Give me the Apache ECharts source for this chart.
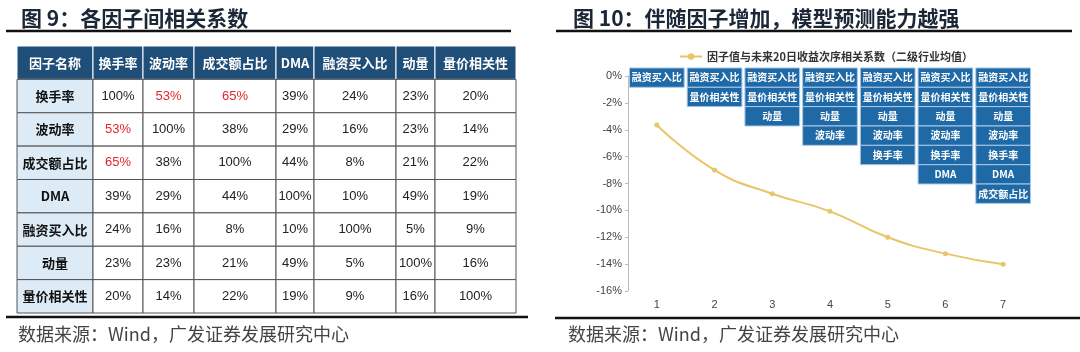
<!DOCTYPE html>
<html>
<head>
<meta charset="utf-8">
<script src="https://cdn.jsdelivr.net/npm/echarts@6/dist/echarts.min.js"></script>
<style>
  html, body { margin: 0; padding: 0; background: #fff; }
  #chart { width: 1080px; height: 352px; }
</style>
</head>
<body>
<div id="chart"></div>
<script>
// 表格数据
const factorNames = ['换手率', '波动率', '成交额占比', 'DMA', '融资买入比', '动量', '量价相关性']
const corrMatrix = [
  [100, 53, 65, 39, 24, 23, 20],
  [53, 100, 38, 29, 16, 23, 14],
  [65, 38, 100, 44, 8, 21, 22],
  [39, 29, 44, 100, 10, 49, 19],
  [24, 16, 8, 10, 100, 5, 9],
  [23, 23, 21, 49, 5, 100, 16],
  [20, 14, 22, 19, 9, 16, 100]
]

// 折线图数据
const factorCounts = ['1', '2', '3', '4', '5', '6', '7']
const icValues = [-3.65, -7.0, -8.76, -10.07, -12.0, -13.22, -14.01]
// 每一步新增的因子
const addedFactors = ['融资买入比', '量价相关性', '动量', '波动率', '换手率', 'DMA', '成交额占比']
const legendName = '因子值与未来20日收益次序相关系数（二级行业均值）'

// 表格列宽(布局)
const colWidths = [76, 50, 51, 82, 38, 82, 39, 81]
const colStarts = colWidths.reduce((acc, w) => { acc.push(acc[acc.length - 1] + w); return acc }, [0])
const tableWidth = colStarts[colStarts.length - 1]

const CN_FONT = '"Noto Sans CJK SC", sans-serif'
const NUM_FONT = '"Liberation Sans", Arial, sans-serif'

// 构造表格单元格
const tableCells = []
const headerRow = ['因子名称'].concat(factorNames)
headerRow.forEach((t, c) => tableCells.push([0, c, t]))
factorNames.forEach((name, r) => {
  tableCells.push([r + 1, 0, name])
  corrMatrix[r].forEach((v, c) => tableCells.push([r + 1, c + 1, v]))
})

// 构造方块数据
const boxData = []
factorCounts.forEach((k, i) => {
  for (let j = 0; j <= i; j++) boxData.push([i, j, addedFactors[j]])
})

const chart = echarts.init(document.getElementById('chart'))

const BOX_TOP = 0.6
const BOX_STEP = 1.44

const option = {
  animation: false,
  title: [
    { text: '图 9：各因子间相关系数', left: 16, top: 3,
      textStyle: { fontFamily: CN_FONT, fontSize: 21, fontWeight: 'bold', color: '#1b2636' } },
    { text: '图 10：伴随因子增加，模型预测能力越强', left: 568, top: 3,
      textStyle: { fontFamily: CN_FONT, fontSize: 21, fontWeight: 'bold', color: '#1b2636' } }
  ],
  graphic: [
    { type: 'line', shape: { x1: 6, y1: 31, x2: 511, y2: 31 }, style: { stroke: '#111', lineWidth: 2.5 } },
    { type: 'line', shape: { x1: 556, y1: 31, x2: 1072, y2: 31 }, style: { stroke: '#111', lineWidth: 2.5 } },
    { type: 'line', shape: { x1: 6, y1: 317, x2: 528, y2: 317 }, style: { stroke: '#111', lineWidth: 2.5 } },
    { type: 'line', shape: { x1: 555, y1: 318, x2: 1080, y2: 318 }, style: { stroke: '#111', lineWidth: 2.5 } },
    { type: 'text', left: 18, top: 325,
      style: { text: '数据来源：Wind，广发证券发展研究中心', font: '18px ' + CN_FONT, fill: '#444' } },
    { type: 'text', left: 568, top: 325,
      style: { text: '数据来源：Wind，广发证券发展研究中心', font: '18px ' + CN_FONT, fill: '#444' } }
  ],
  legend: {
    data: [legendName],
    left: 674,
    top: 46,
    itemWidth: 22,
    itemHeight: 8,
    textStyle: { fontFamily: CN_FONT, fontSize: 11, fontWeight: 'bold', color: '#333' }
  },
  grid: [
    { left: 17, top: 46, width: tableWidth, height: 267 },
    { left: 628, top: 76, width: 404, height: 215 }
  ],
  xAxis: [
    { gridIndex: 0, type: 'value', min: 0, max: tableWidth, show: false },
    {
      gridIndex: 1, type: 'category', data: factorCounts, boundaryGap: true,
      axisLine: { show: false }, axisTick: { show: false },
      axisLabel: { color: '#444', fontSize: 11, fontFamily: NUM_FONT, margin: 8 }
    }
  ],
  yAxis: [
    { gridIndex: 0, type: 'value', min: 0, max: 8, inverse: true, show: false },
    {
      gridIndex: 1, type: 'value', min: -16, max: 0, interval: 2,
      axisLine: { show: true, lineStyle: { color: '#bbb' } },
      axisTick: { show: true, length: 3, lineStyle: { color: '#bbb' } },
      splitLine: { show: false },
      axisLabel: { formatter: '{value}%', color: '#444', fontSize: 11, fontFamily: NUM_FONT, margin: 6 }
    }
  ],
  series: [
    {
      type: 'custom',
      xAxisIndex: 0,
      yAxisIndex: 0,
      data: tableCells,
      renderItem: (params, api) => {
        const cell = tableCells[params.dataIndex]
        const r = cell[0], c = cell[1], v = cell[2]
        const p0 = api.coord([colStarts[c], r])
        const p1 = api.coord([colStarts[c + 1], r + 1])
        const isHeader = r === 0
        const isLabel = c === 0
        let fill = '#fff', stroke = '#555', textColor = '#222'
        let font = '13px ' + NUM_FONT
        let text = typeof v === 'number' ? v + '%' : v
        if (isHeader) {
          fill = '#1f4e79'; stroke = '#fff'; textColor = '#fff'
          font = 'bold 13px ' + CN_FONT
        } else if (isLabel) {
          fill = '#ddebf7'
          font = 'bold 13px ' + CN_FONT
          textColor = '#111'
        } else if (v > 50 && v < 100) {
          textColor = '#e3262b'
        }
        return {
          type: 'group',
          children: [
            { type: 'rect', shape: { x: p0[0], y: p0[1], width: p1[0] - p0[0], height: p1[1] - p0[1] },
              style: { fill: fill, stroke: stroke, lineWidth: 1 } },
            { type: 'text',
              style: { text: text, x: (p0[0] + p1[0]) / 2, y: (p0[1] + p1[1]) / 2,
                align: 'center', verticalAlign: 'middle', font: font, fill: textColor } }
          ]
        }
      }
    },
    {
      name: legendName,
      type: 'line',
      xAxisIndex: 1,
      yAxisIndex: 1,
      data: icValues,
      smooth: true,
      symbol: 'circle',
      symbolSize: 5,
      itemStyle: { color: '#e8c568' },
      lineStyle: { color: '#e8c568', width: 2 },
      z: 3
    },
    {
      type: 'custom',
      xAxisIndex: 1,
      yAxisIndex: 1,
      data: boxData,
      clip: false,
      renderItem: (params, api) => {
        const i = api.value(0), j = api.value(1)
        const label = boxData[params.dataIndex][2]
        const top = api.coord([i, BOX_TOP - j * BOX_STEP])
        const band = api.size([1, BOX_STEP])
        const w = band[0] - 3
        const h = band[1]
        return {
          type: 'group',
          children: [
            { type: 'rect', shape: { x: top[0] - w / 2, y: top[1], width: w, height: h },
              style: { fill: '#1f69a6', stroke: '#a9c9e8', lineWidth: 1 } },
            { type: 'text',
              style: { text: label, x: top[0], y: top[1] + h / 2, align: 'center', verticalAlign: 'middle',
                font: 'bold 10px ' + CN_FONT, fill: '#fff' } }
          ]
        }
      },
      z: 4
    }
  ]
}

chart.setOption(option)
</script>
</body>
</html>
